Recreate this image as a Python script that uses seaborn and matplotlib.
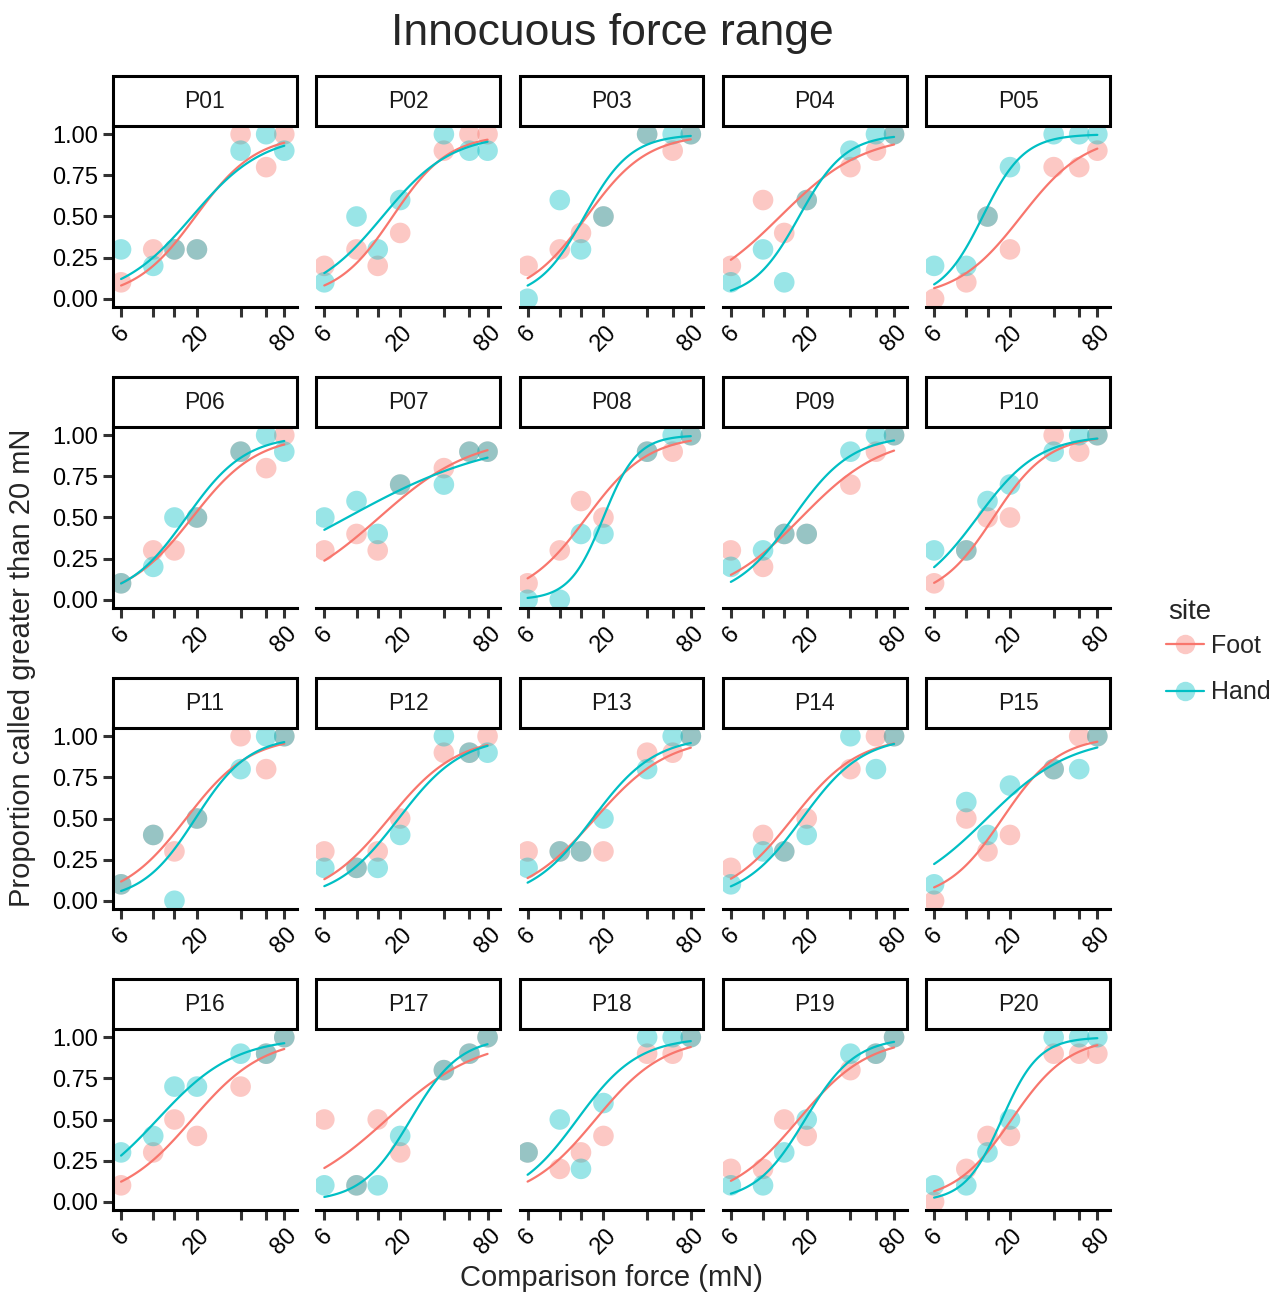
import numpy as np
import pandas as pd
import matplotlib
matplotlib.use("Agg")
import matplotlib.pyplot as plt
import matplotlib.transforms as mtransforms
import seaborn as sns
from matplotlib.patches import Rectangle
from matplotlib.lines import Line2D

# comparison forces (mN) and participants
forces = [6, 10, 14, 20, 40, 60, 80]
participants = ["P%02d" % i for i in range(1, 21)]

# proportion called greater than 20 mN, one row per participant
foot_props = [
    [0.1, 0.3, 0.3, 0.3, 1.0, 0.8, 1.0],
    [0.2, 0.3, 0.2, 0.4, 0.9, 1.0, 1.0],
    [0.2, 0.3, 0.4, 0.5, 1.0, 0.9, 1.0],
    [0.2, 0.6, 0.4, 0.6, 0.8, 0.9, 1.0],
    [0.0, 0.1, 0.5, 0.3, 0.8, 0.8, 0.9],
    [0.1, 0.3, 0.3, 0.5, 0.9, 0.8, 1.0],
    [0.3, 0.4, 0.3, 0.7, 0.8, 0.9, 0.9],
    [0.1, 0.3, 0.6, 0.5, 0.9, 0.9, 1.0],
    [0.3, 0.2, 0.4, 0.4, 0.7, 0.9, 1.0],
    [0.1, 0.3, 0.5, 0.5, 1.0, 0.9, 1.0],
    [0.1, 0.4, 0.3, 0.5, 1.0, 0.8, 1.0],
    [0.3, 0.2, 0.3, 0.5, 0.9, 0.9, 1.0],
    [0.3, 0.3, 0.3, 0.3, 0.9, 0.9, 1.0],
    [0.2, 0.4, 0.3, 0.5, 0.8, 1.0, 1.0],
    [0.0, 0.5, 0.3, 0.4, 0.8, 1.0, 1.0],
    [0.1, 0.3, 0.5, 0.4, 0.7, 0.9, 1.0],
    [0.5, 0.1, 0.5, 0.3, 0.8, 0.9, 1.0],
    [0.3, 0.2, 0.3, 0.4, 0.9, 0.9, 1.0],
    [0.2, 0.2, 0.5, 0.4, 0.8, 0.9, 1.0],
    [0.0, 0.2, 0.4, 0.4, 0.9, 0.9, 0.9],
]
hand_props = [
    [0.3, 0.2, 0.3, 0.3, 0.9, 1.0, 0.9],
    [0.1, 0.5, 0.3, 0.6, 1.0, 0.9, 0.9],
    [0.0, 0.6, 0.3, 0.5, 1.0, 1.0, 1.0],
    [0.1, 0.3, 0.1, 0.6, 0.9, 1.0, 1.0],
    [0.2, 0.2, 0.5, 0.8, 1.0, 1.0, 1.0],
    [0.1, 0.2, 0.5, 0.5, 0.9, 1.0, 0.9],
    [0.5, 0.6, 0.4, 0.7, 0.7, 0.9, 0.9],
    [0.0, 0.0, 0.4, 0.4, 0.9, 1.0, 1.0],
    [0.2, 0.3, 0.4, 0.4, 0.9, 1.0, 1.0],
    [0.3, 0.3, 0.6, 0.7, 0.9, 1.0, 1.0],
    [0.1, 0.4, 0.0, 0.5, 0.8, 1.0, 1.0],
    [0.2, 0.2, 0.2, 0.4, 1.0, 0.9, 0.9],
    [0.2, 0.3, 0.3, 0.5, 0.8, 1.0, 1.0],
    [0.1, 0.3, 0.3, 0.4, 1.0, 0.8, 1.0],
    [0.1, 0.6, 0.4, 0.7, 0.8, 0.8, 1.0],
    [0.3, 0.4, 0.7, 0.7, 0.9, 0.9, 1.0],
    [0.1, 0.1, 0.1, 0.4, 0.8, 0.9, 1.0],
    [0.3, 0.5, 0.2, 0.6, 1.0, 1.0, 1.0],
    [0.1, 0.1, 0.3, 0.5, 0.9, 0.9, 1.0],
    [0.1, 0.1, 0.3, 0.5, 1.0, 1.0, 1.0],
]

sites = ["Foot", "Hand"]
palette = {"Foot": "#F8766D", "Hand": "#00BFC4"}

sns.set_style("white")
plt.rcParams["font.family"] = ["Liberation Sans", "DejaVu Sans"]

# long table of points
rows = []
for i, pid in enumerate(participants):
    for site, props in zip(sites, [foot_props, hand_props]):
        for f, p in zip(forces, props[i]):
            rows.append({"participant": pid, "site": site, "force": f, "prop": p})
df = pd.DataFrame(rows)


def fit_logistic(x, p):
    # binomial glm on log10(force), plain IRLS
    X = np.column_stack([np.ones_like(x), x])
    beta = np.zeros(2)
    for _ in range(100):
        eta = X @ beta
        mu = 1 / (1 + np.exp(-eta))
        w = mu * (1 - mu)
        z = eta + (p - mu) / w
        beta = np.linalg.solve(X.T @ (w[:, None] * X), X.T @ (w * z))
    return beta


xs = np.logspace(np.log10(min(forces)), np.log10(max(forces)), 120)
curves = []
for pid in participants:
    for site in sites:
        sub = df[(df.participant == pid) & (df.site == site)]
        b = fit_logistic(np.log10(sub.force.values.astype(float)), sub.prop.values)
        yfit = 1 / (1 + np.exp(-(b[0] + b[1] * np.log10(xs))))
        curves.append(pd.DataFrame({"participant": pid, "site": site, "force": xs, "prop": yfit}))
fits = pd.concat(curves, ignore_index=True)

W, H = 1277, 1294
fig, axes = plt.subplots(4, 5, figsize=(W / 100, H / 100), dpi=100)
fig.subplots_adjust(left=113 / W, right=1110 / W, top=1 - 126 / H, bottom=1 - 1210 / H,
                    wspace=0.105, hspace=0.663)

shift = mtransforms.ScaledTranslation(7 / 100, 0, fig.dpi_scale_trans)

for k, pid in enumerate(participants):
    ax = axes.flat[k]
    r, c = divmod(k, 5)
    sub = df[df.participant == pid]
    sns.scatterplot(data=sub, x="force", y="prop", hue="site", palette=palette,
                    hue_order=sites, s=220, alpha=0.4, linewidth=0, legend=False, ax=ax)
    sns.lineplot(data=fits[fits.participant == pid], x="force", y="prop", hue="site",
                 palette=palette, hue_order=sites, lw=1.6, legend=False, ax=ax, zorder=3)
    ax.set_xscale("log")
    ax.set_xlim(5.28, 97.8)
    ax.set_ylim(-0.05, 1.05)
    ax.set_xticks(forces)
    ax.set_xticklabels(["6", "", "", "20", "", "", "80"], rotation=45, fontsize=17)
    for lab in ax.get_xticklabels():
        lab.set_transform(lab.get_transform() + shift)
    ax.minorticks_off()
    ax.set_xlabel("")
    ax.set_ylabel("")
    for s in ["top", "right"]:
        ax.spines[s].set_visible(False)
    ax.spines["bottom"].set_linewidth(2.2)
    ax.spines["bottom"].set_color("black")
    ax.tick_params(axis="both", which="major", length=7, width=2.2, color="#333333",
                   labelcolor="black", bottom=True)
    if c == 0:
        ax.spines["left"].set_linewidth(2.2)
        ax.spines["left"].set_color("black")
        ax.set_yticks([0, 0.25, 0.5, 0.75, 1.0])
        ax.set_yticklabels(["0.00", "0.25", "0.50", "0.75", "1.00"], fontsize=17)
        ax.tick_params(axis="y", left=True)
    else:
        ax.spines["left"].set_visible(False)
        ax.set_yticks([])
    # strip box on top of each panel
    strip_h = 50 / 181
    ax.add_patch(Rectangle((0, 1), 1, strip_h, transform=ax.transAxes, facecolor="white",
                           edgecolor="black", lw=2.2, clip_on=False, zorder=5))
    ax.text(0.5, 1 + strip_h / 2, pid, transform=ax.transAxes, ha="center", va="center",
            fontsize=16.5, color="#1a1a1a", zorder=6)

fig.text(612 / W, 1 - 33 / H, "Innocuous force range", ha="center", va="center", fontsize=32)
fig.text(611 / W, 1 - 1278 / H, "Comparison force (mN)", ha="center", va="center", fontsize=21)
fig.text(22 / W, 1 - 668 / H, "Proportion called greater than 20 mN", ha="center", va="center",
         rotation=90, fontsize=21)

# legend: title drawn separately to match the tighter spacing
fig.text(1168 / W, 1 - 612 / H, "site", ha="left", va="center", fontsize=20)
handles = []
for site in sites:
    col = matplotlib.colors.to_rgb(palette[site])
    handles.append(Line2D([0], [0], color=palette[site], lw=1.6, marker="o", markersize=14,
                          markerfacecolor=col + (0.4,), markeredgewidth=0))
fig.legend(handles, sites, loc="center left", bbox_to_anchor=(1166 / W, 1 - 669 / H),
           frameon=False, fontsize=18, handlelength=1.5, labelspacing=0.9,
           handletextpad=0.3, borderpad=0, borderaxespad=0)

fig.savefig("out.png", dpi=100)
